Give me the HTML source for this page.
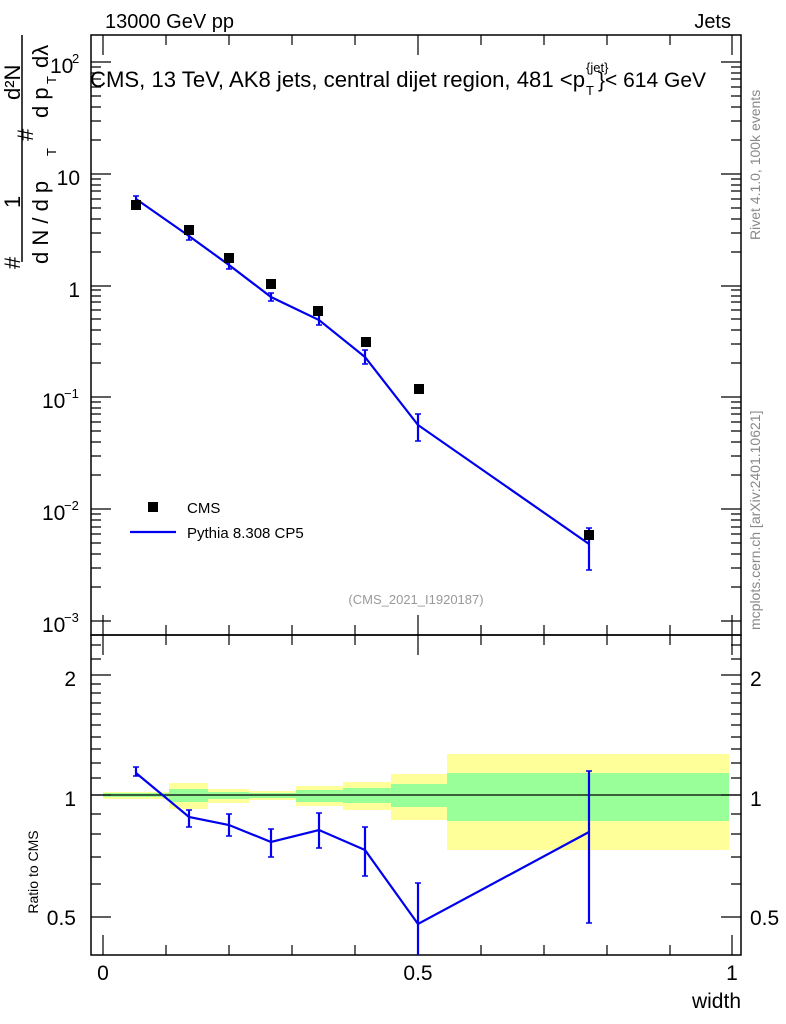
<!DOCTYPE html>
<html><head><meta charset="utf-8"><style>
body{margin:0;background:#fff}
svg{display:block;font-family:"Liberation Sans",sans-serif}
</style></head><body>
<svg width="786" height="1024" viewBox="0 0 786 1024" xmlns="http://www.w3.org/2000/svg">
<rect width="786" height="1024" fill="#fff"/>
<g>
<rect x="103" y="792" width="66" height="7" fill="#ffff99"/><rect x="103" y="793" width="66" height="4" fill="#99ff99"/>
<rect x="169" y="783" width="39" height="26" fill="#ffff99"/><rect x="169" y="789" width="39" height="13" fill="#99ff99"/>
<rect x="208" y="789" width="41" height="14" fill="#ffff99"/><rect x="208" y="792" width="41" height="7" fill="#99ff99"/>
<rect x="249" y="791" width="47" height="9" fill="#ffff99"/><rect x="249" y="793" width="47" height="5" fill="#99ff99"/>
<rect x="296" y="786" width="47" height="20" fill="#ffff99"/><rect x="296" y="790" width="47" height="12" fill="#99ff99"/>
<rect x="343" y="782" width="48" height="28" fill="#ffff99"/><rect x="343" y="788" width="48" height="15" fill="#99ff99"/>
<rect x="391" y="774" width="56" height="46" fill="#ffff99"/><rect x="391" y="784" width="56" height="23" fill="#99ff99"/>
<rect x="447" y="754" width="282" height="96" fill="#ffff99"/><rect x="447" y="773" width="282" height="48" fill="#99ff99"/>
</g>
<line x1="91" y1="795" x2="741" y2="795" stroke="#000" stroke-width="1.2"/>
<rect x="91" y="35" width="650" height="600" fill="none" stroke="#000" stroke-width="1.5"/>
<rect x="91" y="635" width="650" height="320" fill="none" stroke="#000" stroke-width="1.5"/>
<g stroke="#000" stroke-width="1.2" fill="none">
<path d="M91 62h20M91 174h20M91 286h20M91 397h20M91 509h20M91 621h20M741 62h-20M741 174h-20M741 286h-20M741 397h-20M741 509h-20M741 621h-20"/>
<path d="M91 587h10M91 568h10M91 554h10M91 543h10M91 534h10M91 527h10M91 520h10M91 514h10
M91 475h10M91 456h10M91 442h10M91 431h10M91 422h10M91 414h10M91 408h10M91 402h10
M91 363h10M91 344h10M91 330h10M91 319h10M91 310h10M91 302h10M91 296h10M91 290h10
M91 252h10M91 233h10M91 219h10M91 208h10M91 199h10M91 191h10M91 185h10M91 179h10
M91 140h10M91 121h10M91 107h10M91 96h10M91 87h10M91 79h10M91 73h10M91 67h10
M741 587h-10M741 568h-10M741 554h-10M741 543h-10M741 534h-10M741 527h-10M741 520h-10M741 514h-10
M741 475h-10M741 456h-10M741 442h-10M741 431h-10M741 422h-10M741 414h-10M741 408h-10M741 402h-10
M741 363h-10M741 344h-10M741 330h-10M741 319h-10M741 310h-10M741 302h-10M741 296h-10M741 290h-10
M741 252h-10M741 233h-10M741 219h-10M741 208h-10M741 199h-10M741 191h-10M741 185h-10M741 179h-10
M741 140h-10M741 121h-10M741 107h-10M741 96h-10M741 87h-10M741 79h-10M741 73h-10M741 67h-10"/>
<path d="M103 35v20M418 35v20M732 35v20M166 35v10M229 35v10M292 35v10M355 35v10M481 35v10M544 35v10M607 35v10M670 35v10
M103 635v-20M418 635v-20M732 635v-20M166 635v-10M229 635v-10M292 635v-10M355 635v-10M481 635v-10M544 635v-10M607 635v-10M670 635v-10
M103 635v20M418 635v20M732 635v20M166 635v10M229 635v10M292 635v10M355 635v10M481 635v10M544 635v10M607 635v10M670 635v10
M103 955v-20M418 955v-20M732 955v-20M166 955v-10M229 955v-10M292 955v-10M355 955v-10M481 955v-10M544 955v-10M607 955v-10M670 955v-10"/>
<path d="M91 675h20M91 795h20M91 917h20M741 675h-20M741 795h-20M741 917h-20
M91 684h10M91 693h10M91 703h10M91 714h10M91 725h10M91 737h10M91 749h10M91 763h10M91 778h10M91 814h10M91 834h10M91 857h10M91 884h10M91 659h10M91 645h10
M741 684h-10M741 693h-10M741 703h-10M741 714h-10M741 725h-10M741 737h-10M741 749h-10M741 763h-10M741 778h-10M741 814h-10M741 834h-10M741 857h-10M741 884h-10M741 659h-10M741 645h-10"/>
</g>
<g stroke="#0000ee" stroke-width="2.2" fill="none">
<polyline points="136,199 189,236 229,265 271,297 319,320 365,357 418,425 589,544"/>
<path d="M136 196v6M189 232v8M229 261v8M271 293v8M319 315v10M365 350v14M418 414v27M589 528v42"/>
<path d="M133 196h6M133 202h6M186 232h6M186 240h6M226 261h6M226 269h6M268 293h6M268 301h6M316 315h6M316 325h6M362 350h6M362 364h6M415 414h6M415 441h6M586 528h6M586 570h6" stroke-width="1.5"/>
</g>
<g fill="#000">
<rect x="131" y="200" width="10" height="10"/><rect x="184" y="225" width="10" height="10"/><rect x="224" y="253" width="10" height="10"/><rect x="266" y="279" width="10" height="10"/><rect x="313" y="306" width="10" height="10"/><rect x="361" y="337" width="10" height="10"/><rect x="414" y="384" width="10" height="10"/><rect x="584" y="530" width="10" height="10"/>
</g>
<g stroke="#0000ee" stroke-width="2.2" fill="none">
<polyline points="136,773 189,817 229,825 271,842 319,830 365,850 418,924 589,832"/>
<path d="M136 767v9M189 810v17M229 814v22M271 829v28M319 813v35M365 827v49M418 883v72M589 771v152"/>
<path d="M133 767h6M133 776h6M186 810h6M186 827h6M226 814h6M226 836h6M268 829h6M268 857h6M316 813h6M316 848h6M362 827h6M362 876h6M415 883h6M586 771h6M586 923h6" stroke-width="1.5"/>
</g>
<rect x="148" y="502" width="10" height="10" fill="#000"/>
<text x="187" y="513" font-size="15">CMS</text>
<line x1="130" y1="532" x2="176" y2="532" stroke="#0000ee" stroke-width="2.2"/>
<text x="187" y="538" font-size="15">Pythia 8.308 CP5</text>
<text x="416" y="604" font-size="13" fill="#999" text-anchor="middle">(CMS_2021_I1920187)</text>
<text x="105" y="28" font-size="20">13000 GeV pp</text>
<text x="731" y="28" font-size="20" text-anchor="end">Jets</text>
<text x="90" y="87" font-size="22" textLength="495" lengthAdjust="spacingAndGlyphs">CMS, 13 TeV, AK8 jets, central dijet region, 481 &lt;p</text>
<text x="586" y="72" font-size="13">{jet}</text>
<text x="586" y="95" font-size="13">T</text>
<text x="598" y="87" font-size="21">}&lt; 614 GeV</text>
<g font-size="21">
<text x="80" y="185" text-anchor="end">10</text>
<text x="80" y="297" text-anchor="end">1</text>
<text x="42" y="408">10</text><text x="64" y="398" font-size="13">−1</text>
<text x="42" y="520">10</text><text x="64" y="510" font-size="13">−2</text>
<text x="42" y="632">10</text><text x="64" y="622" font-size="13">−3</text>
<text x="50" y="73">10</text><text x="72" y="63" font-size="13">2</text>
<text x="76" y="686" text-anchor="end">2</text>
<text x="76" y="806" text-anchor="end">1</text>
<text x="76" y="925" text-anchor="end">0.5</text>
<text x="750" y="686">2</text>
<text x="750" y="806">1</text>
<text x="750" y="925">0.5</text>
<text x="103" y="980" text-anchor="middle">0</text>
<text x="418" y="980" text-anchor="middle">0.5</text>
<text x="732" y="980" text-anchor="middle">1</text>
<text x="741" y="1008" text-anchor="end">width</text>
</g>
<text transform="translate(38,872) rotate(-90)" font-size="14" text-anchor="middle">Ratio to CMS</text>
<g font-size="22">
<line x1="22" y1="35" x2="22" y2="262" stroke="#000" stroke-width="1.5"/>
<text transform="translate(20,269) rotate(-90)">#</text>
<text transform="translate(20,208) rotate(-90)">1</text>
<text transform="translate(20,100) rotate(-90)">d²N</text>
<text transform="translate(48,264) rotate(-90)">d N / d p</text>
<text transform="translate(56,156) rotate(-90)" font-size="13">T</text>
<text transform="translate(33,141) rotate(-90)">#</text>
<text transform="translate(48,118) rotate(-90)">d p</text>
<text transform="translate(56,84) rotate(-90)" font-size="13">T</text>
<text transform="translate(48,68) rotate(-90)">dλ</text>
</g>
<text transform="translate(760,240) rotate(-90)" font-size="14" fill="#888">Rivet 4.1.0,  100k events</text>
<text transform="translate(760,630) rotate(-90)" font-size="14" fill="#888">mcplots.cern.ch [arXiv:2401.10621]</text>
</svg>
</body></html>
